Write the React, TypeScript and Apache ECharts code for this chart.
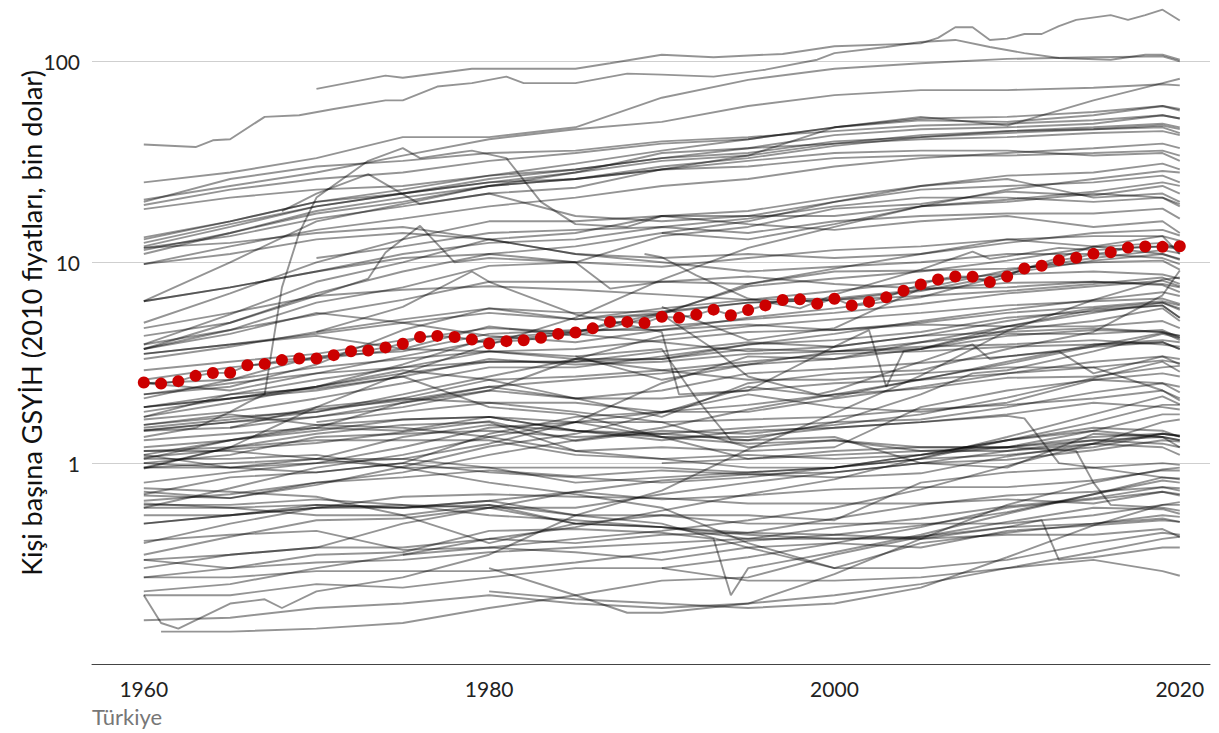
import React, { useEffect, useRef } from "react";
import * as echarts from "echarts";

// Sample years used by the compact gray series
const YEARS = [1960, 1965, 1970, 1975, 1980, 1985, 1990, 1995, 2000, 2005, 2010, 2015, 2019, 2020];

// Türkiye, yearly 1960-2020 (bin dolar, 2010 fiyatları)
const turkiyeYears = Array.from({ length: 61 }, (_, i) => 1960 + i);
const turkiyeValues = [
  2.52, 2.49, 2.56, 2.72, 2.81, 2.82, 3.07, 3.12, 3.26, 3.32,
  3.32, 3.45, 3.61, 3.64, 3.77, 3.93, 4.25, 4.30, 4.25, 4.13,
  3.94, 4.05, 4.09, 4.21, 4.40, 4.47, 4.69, 5.05, 5.05, 4.99,
  5.36, 5.30, 5.49, 5.81, 5.45, 5.79, 6.10, 6.49, 6.54, 6.22,
  6.59, 6.10, 6.35, 6.69, 7.22, 7.76, 8.21, 8.50, 8.47, 7.97,
  8.50, 9.32, 9.61, 10.25, 10.53, 11.02, 11.23, 11.84, 11.98, 11.94,
  12.03,
];

// Gray country lines sampled at YEARS
const a01 = [25, 28, 33, 42, 42, 47, 66, 81, 92, 98, 103, 105, 106, 100];
const a02 = [20.5, 24, 28, 34, 41, 46, 50, 60, 68, 72, 72, 74, 77, 76];
const a03 = [11.8, 13.5, 16.5, 19, 22, 23.5, 29, 34, 47, 53, 48, 64, 78, 82];
const a04 = [19.3, 23, 26, 28, 32, 35, 39, 41, 47, 51, 50, 54, 60, 58];
const a05 = [13, 16, 20, 23, 27, 31, 36, 41, 47, 52, 53, 56, 60, 57];
const a06 = [20, 26, 30, 32, 35, 36, 40, 42, 45, 48, 49, 51, 54, 52];
const a07 = [12, 15, 19, 22, 26, 29, 33, 37, 43, 46, 47, 49, 54, 52];
const a08 = [11.5, 14, 17.5, 20, 24, 26, 30, 33, 38, 42, 44, 46, 48, 46];
const a09 = [12.5, 15.5, 19, 22, 25, 28, 32, 34, 39, 43, 45, 46, 47, 44];
const a10 = [18.4, 21, 23, 24, 27, 29, 33, 35, 40, 42, 45, 47, 49, 47];
const a11 = [6.4, 10, 16, 19.5, 24, 28, 35, 37, 39, 41, 42, 44, 45, 43];
const a12 = [9.8, 12, 14.5, 16.5, 19, 21, 24, 26, 30, 33, 35, 37, 39, 37];
const a13 = [13.3, 16, 20, 22, 25, 26, 29, 30, 33, 34, 34, 35, 36, 34];
const a14 = [11, 14, 18, 21, 24, 26, 29, 32, 35, 36, 36, 34, 35, 32];
const a15 = [3.9, 5.5, 8, 10, 13, 14, 17, 18, 21, 24, 27, 28, 31, 29];
const a16 = [0.94, 1.2, 1.9, 2.8, 3.9, 5.3, 8.2, 11.8, 15, 19, 23, 26, 28.5, 28];
const a17 = [5, 7, 10, 13, 16, 16, 17, 17, 20, 24, 26, 21, 22, 20];
const a18 = [3.7, 5, 7, 9, 11, 12, 14, 16, 20, 23, 24, 25, 27, 25];
const a19 = [3.7, 4.6, 6.3, 7.5, 9.6, 10, 13.5, 15, 18.5, 19.5, 22.5, 21.5, 24, 22];
const a20 = [6.4, 7.5, 9, 11, 12.5, 13, 15, 16.5, 19, 21, 21, 20, 21, 19.5];
const a21 = [null, null, 10.5, 12, 14, 14.5, 15, 14, 16, 17, 17.5, 17.5, 18.5, 16.5];
const a22 = [null, null, null, null, null, null, 14, 13, 15.5, 19, 20.5, 22.5, 25, 24];
const a23 = [3.5, 3.9, 4.3, 3.7, 4.8, 4.3, 5.5, 7.8, 9.3, 11, 12.5, 14, 14.5, 13.6];
const a24 = [9.8, 11, 13, 14, 13, 11, 10, 9, 9.5, 10, 11, 11, 10.5, 9.8];
const a25 = [11.8, 12.5, 14, 15, 13, 11, 10.5, 11, 10.5, 11, 13, 12, 11, 10.4];
const a26 = [6.4, 7.5, 9, 10.5, 11, 10, 9.5, 10.5, 11.5, 12, 13, 13.5, 13.5, 12.8];
const a27 = [3.9, 4.6, 5.5, 6.5, 8, 8, 8, 7.8, 9, 9.1, 9.3, 10, 10.2, 9.2];
const a28 = [2.2, 2.4, 3.1, 4.6, 5.9, 5.6, 5.7, 6.3, 6.5, 7.2, 8.7, 9, 8.7, 8.3];
const a29 = [1.7, 2, 2.4, 3.1, 4.2, 4.5, 5.6, 7.6, 8.3, 9, 10.2, 11.9, 12.5, 11.6];
const a30 = [3.3, 3.8, 4.5, 5.2, 5.9, 5.2, 5.9, 6.5, 7.2, 8, 8.8, 10.2, 11, 10.3];
const a31 = [4.7, 5.6, 6.8, 7.3, 7.6, 7.3, 6.9, 6.5, 6.6, 7.3, 7.9, 8, 7.7, 7.1];
const a32 = [1.9, 2.1, 2.4, 2.9, 2.6, 2.1, 1.7, 2.5, 2.8, 2.9, 3.7, 4.5, 6.85, 9.1];
const a33 = [2.1, 2.6, 3.4, 3.6, 4.4, 4.6, 4.6, 5.3, 5.9, 6.7, 8.7, 12, 13.5, 11];
const a34 = [3.5, 3.9, 4.4, 5, 5.6, 5.2, 5.6, 6.3, 6.5, 6.8, 7.2, 7.8, 8.4, 7.8];
const a35 = [2.9, 3.2, 3.5, 4.1, 4.7, 4.5, 4.8, 5.2, 5.6, 6.2, 7, 7.6, 8.1, 7.6];
const a36 = [1.9, 2.2, 2.6, 3, 3.6, 3.7, 4.1, 4.5, 4.6, 5, 5.6, 6, 6.4, 6.1];
const a37 = [1.65, 1.8, 2.1, 2.5, 3, 3, 3.4, 3.9, 4.4, 5.1, 5.8, 6.5, 7.1, 6.8];
const a38 = [2.5, 2.6, 3, 3.3, 3.6, 3.3, 3.3, 3.9, 4.1, 4.5, 5.3, 5.7, 6.1, 5.3];
const a39 = [1.46, 1.6, 1.8, 2.2, 2.7, 3.3, 4.3, 4.8, 5.2, 5.6, 6.1, 6.4, 6.6, 6.2];
const a40 = [2.2, 2.5, 2.8, 3, 3.2, 3.2, 3.3, 3.7, 3.6, 3.7, 4.3, 4.6, 4.5, 4.3];
const a41 = [3.7, 4.4, 5.6, 5, 4.3, 4, 4.6, 4.9, 4.6, 4.9, 4.8, 4.8, 5.1, 4.7];
const a42 = [1.8, 2.1, 2.3, 2.7, 3.3, 3.1, 3.2, 3.5, 3.6, 3.8, 3.9, 4.1, 3.9, 3.8];
const a43 = [1.55, 1.7, 1.8, 2.1, 2.6, 2.7, 2.9, 3.2, 3.5, 3.6, 3.8, 3.9, 4, 3.7];
const a44 = [2.5, 2.3, 2.8, 3.4, 4.1, 4.4, 4, 3.6, 3.8, 4.3, 4.5, 4.7, 4.5, 4.1];
const a45 = [2.6, 3, 3.3, 3.7, 3.6, 3.4, 2.6, 3.1, 3.3, 3.7, 4.8, 5.8, 6.1, 5.3];
const a46 = [1.9, 2.1, 2.4, 2.8, 3.2, 3.2, 3.6, 4, 3.8, 4.3, 5.1, 5.9, 6.3, 5.8];
const b01 = [0.33, 0.35, 0.38, 0.38, 0.42, 0.48, 0.58, 0.7, 0.83, 1.06, 1.35, 1.75, 2.15, 1.96];
const b02 = [0.69, 0.67, 0.78, 0.96, 1.21, 1.4, 1.78, 2.4, 2.14, 2.62, 3.12, 3.83, 4.45, 4.31];
const b03 = [0.7, 0.85, 0.9, 1.0, 1.4, 1.7, 1.8, 1.95, 2.2, 2.35, 2.66, 2.7, 3.0, 3.05];
const b04 = [1.07, 1.17, 1.26, 1.43, 1.62, 1.29, 1.45, 1.4, 1.55, 1.75, 2.12, 2.65, 3.2, 2.85];
const b05 = [0.35, 0.43, 0.52, 0.53, 0.6, 0.72, 0.82, 0.88, 0.9, 1.0, 1.04, 1.16, 1.3, 1.28];
const b06 = [0.41, 0.44, 0.46, 0.37, 0.38, 0.42, 0.46, 0.52, 0.6, 0.74, 0.97, 1.25, 1.6, 1.65];
const b07 = [1.15, 1.2, 1.4, 1.55, 1.6, 1.15, 1.2, 1.15, 1.2, 1.9, 2.3, 2.6, 2.5, 2.4];
const b08 = [0.72, 0.67, 0.8, 0.85, 0.92, 0.86, 0.92, 0.88, 0.85, 0.89, 1.08, 1.25, 1.4, 1.36];
const b09 = [1.05, 1.05, 1.1, 0.95, 0.95, 0.8, 0.85, 0.9, 0.95, 1.1, 1.3, 1.6, 1.95, 1.95];
const b10 = [0.22, 0.22, 0.25, 0.24, 0.27, 0.3, 0.3, 0.26, 0.26, 0.27, 0.3, 0.33, 0.29, 0.275];
const b11 = [1.1, 0.95, 1.05, 0.95, 0.8, 0.7, 0.6, 0.4, 0.3, 0.3, 0.33, 0.4, 0.45, 0.44];
const b12 = [0.62, 0.62, 0.66, 0.62, 0.6, 0.5, 0.48, 0.42, 0.42, 0.42, 0.44, 0.44, 0.47, 0.43];
const b13 = [0.75, 0.72, 0.68, 0.55, 0.62, 0.5, 0.48, 0.44, 0.42, 0.43, 0.48, 0.5, 0.55, 0.54];
const b14 = [0.23, 0.25, 0.3, 0.35, 0.38, 0.36, 0.33, 0.38, 0.4, 0.38, 0.46, 0.49, 0.52, 0.51];
const b15 = [null, null, null, null, 0.23, 0.21, 0.2, 0.19, 0.2, 0.24, 0.34, 0.49, 0.62, 0.64];
const b16 = [null, null, null, null, 0.3, 0.22, 0.26, 0.27, 0.35, 0.43, 0.51, 0.6, 0.59, 0.56];
const b17 = [0.5, 0.55, 0.62, 0.6, 0.62, 0.55, 0.5, 0.38, 0.3, 0.4, 0.45, 0.5, 0.53, 0.51];
const b18 = [0.63, 0.6, 0.55, 0.55, 0.4, 0.5, 0.55, 0.55, 0.52, 0.8, 0.9, 0.95, 0.85, 0.83];
const b19 = [0.4, 0.5, 0.6, 0.6, 0.65, 0.55, 0.55, 0.5, 0.5, 0.5, 0.5, 0.55, 0.62, 0.62];
const b20 = [null, null, null, null, null, null, 0.3, 0.34, 0.4, 0.48, 0.6, 0.66, 0.72, 0.7];
const b21 = [0.27, 0.27, 0.29, 0.29, 0.29, 0.32, 0.36, 0.41, 0.44, 0.49, 0.57, 0.7, 0.85, 0.84];
const b22 = [0.27, 0.3, 0.32, 0.33, 0.36, 0.38, 0.4, 0.42, 0.48, 0.53, 0.61, 0.67, 0.76, 0.75];
const b23 = [null, null, null, 0.35, 0.42, 0.4, 0.44, 0.45, 0.53, 0.62, 0.69, 0.72, 0.76, 0.73];
const b24 = [0.5, 0.55, 0.6, 0.68, 0.7, 0.68, 0.67, 0.63, 0.63, 0.63, 0.66, 0.63, 0.72, 0.69];
const b25 = [0.6, 0.6, 0.62, 0.6, 0.65, 0.72, 0.66, 0.69, 0.74, 0.76, 0.76, 0.82, 0.92, 0.92];
const b26 = [null, null, 1.6, 1.8, 2.0, 1.8, 1.6, 1.2, 1.3, 1.15, 1.15, 1.3, 1.25, 1.2];
const b27 = [1.15, 1.15, 1.05, 1.05, 0.95, 0.95, 0.95, 0.9, 0.95, 1.05, 1.1, 1.2, 1.4, 1.37];
const b28 = [1.0, 1.1, 1.35, 1.4, 1.45, 1.35, 1.4, 1.3, 1.35, 1.0, 0.95, 1.4, 1.35, 1.2];
const b29 = [1.55, 1.75, 1.55, 1.5, 1.35, 1.15, 1.05, 0.95, 0.95, 1.05, 1.3, 1.5, 1.45, 1.35];
const b30 = [1.05, 1.3, 1.55, 1.65, 1.7, 1.45, 1.35, 1.25, 1.3, 1.2, 1.2, 1.45, 1.75, 1.75];
const b31 = [0.95, 0.95, 1.0, 1.05, 1.25, 1.6, 1.35, 1.05, 1.15, 1.2, 1.2, 1.35, 1.4, 1.37];
const b32 = [1.0, 0.95, 0.9, 1.0, 0.9, 0.85, 0.8, 0.85, 0.95, 1.1, 1.3, 1.45, 1.35, 1.3];
const b33 = [0.3, 0.35, 0.38, 0.5, 0.6, 0.6, 0.7, 0.8, 0.9, 1.0, 1.15, 1.25, 1.2, 1.1];
const b34 = [1.3, 1.4, 1.5, 1.45, 1.7, 1.6, 1.6, 1.65, 1.7, 1.85, 1.95, 2.1, 2.3, 2.05];
const b35 = [1.2, 1.3, 1.45, 1.65, 1.7, 1.45, 1.4, 1.5, 1.6, 1.65, 1.9, 2.25, 2.5, 2.25];
const b36 = [0.8, 0.9, 1.0, 1.2, 1.5, 1.6, 1.8, 1.8, 2.1, 2.4, 2.8, 3.2, 3.4, 3.1];
const b37 = [0.65, 0.7, 0.8, 0.9, 1.1, 1.3, 1.5, 1.85, 2.2, 2.6, 3.2, 3.9, 4.1, 4.0];
const b38 = [1.5, 1.65, 1.85, 2.05, 2.4, 2.1, 2.1, 2.3, 2.5, 2.6, 2.8, 3.0, 3.25, 3.15];
const b39 = [1.45, 1.6, 1.7, 2.0, 2.3, 2.1, 2.3, 2.8, 2.95, 3.15, 3.4, 3.8, 4.0, 3.7];
const b40 = [1.1, 1.3, 1.5, 2.0, 2.4, 2.6, 2.8, 3.1, 3.6, 4.0, 4.4, 4.4, 4.6, 4.2];
const b41 = [0.6, 0.75, 0.95, 1.1, 1.35, 1.6, 2.5, 3.4, 3.3, 4.0, 4.8, 5.6, 6.3, 5.9];
const b42 = [1.7, 2.2, 2.35, 2.7, 1.9, 1.75, 1.35, 1.35, 1.5, 1.6, 1.75, 2.0, 1.9, 1.85];
const b43 = [null, 1.5, 1.9, 2.1, 2.0, 2.0, 1.8, 2.2, 1.9, 1.8, 2.0, 2.6, 2.8, 2.7];
const b44 = [0.95, 1.2, 1.3, 1.3, 1.3, 1.1, 1.05, 1.1, 1.05, 1.1, 1.2, 1.3, 1.35, 1.3];
const b45 = [1.45, 1.5, 1.7, 1.9, 2.3, 3.3, 2.9, 2.6, 2.6, 2.8, 3.0, 3.0, 2.3, 2.1];
const b46 = [0.165, 0.17, 0.19, 0.2, 0.22, 0.2, 0.19, 0.2, 0.22, 0.25, 0.3, 0.36, 0.42, 0.43];

// Gray lines with their own years: [year, value]
const s01 = [[1970, 73], [1974, 85], [1975, 83], [1979, 92], [1985, 92], [1987, 98], [1990, 108], [1993, 105], [1997, 109], [2000, 119], [2005, 123], [2006, 131], [2007, 148], [2008, 148], [2009, 128], [2010, 130], [2011, 137], [2012, 137], [2013, 150], [2014, 161], [2016, 170], [2017, 161], [2018, 170], [2019, 181], [2020, 160]];
const s02 = [[1960, 38.6], [1963, 37.5], [1964, 40.5], [1965, 41], [1967, 53], [1969, 54], [1971, 58], [1974, 64], [1975, 64], [1977, 75], [1979, 78], [1981, 84], [1982, 78], [1985, 78], [1988, 87], [1990, 86], [1993, 84], [1996, 91], [1999, 102], [2000, 110], [2003, 118], [2005, 125], [2007, 128], [2009, 118], [2011, 110], [2013, 104], [2016, 102], [2018, 108], [2019, 108], [2020, 102]];
const s03 = [[1960, 1.35], [1963, 1.5], [1965, 1.8], [1966, 2.0], [1967, 2.2], [1968, 7.5], [1969, 14], [1970, 21], [1973, 32], [1975, 37], [1976, 33], [1978, 35], [1979, 36], [1981, 33], [1983, 20], [1985, 15.5], [1988, 15], [1990, 17], [1995, 15.5], [2000, 14.5], [2005, 16], [2010, 17], [2015, 15], [2019, 16], [2020, 14]];
const s04 = [[1960, 4.3], [1965, 5], [1970, 6.8], [1973, 8.3], [1974, 11.2], [1976, 15.2], [1978, 10], [1980, 10.5], [1985, 10], [1987, 7.4], [1990, 8], [1995, 8.5], [2000, 7.8], [2005, 7.4], [2010, 7.5], [2015, 8], [2019, 7.8], [2020, 7.5]];
const s05 = [[1968, 18], [1970, 22], [1973, 27.5], [1976, 19.5], [1980, 22], [1985, 17], [1990, 16], [1995, 17], [2000, 17], [2005, 19], [2010, 20], [2015, 22], [2019, 21], [2020, 19]];
const s07 = [[1989, 11], [1990, 10.6], [1992, 8.6], [1995, 6.6], [1998, 5.9], [2000, 6.9], [2005, 9.2], [2008, 11.3], [2009, 10.4], [2010, 10.7], [2013, 11.8], [2015, 11.5], [2019, 12], [2020, 11.6]];
const s08 = [[1990, 6], [1995, 4.1], [2000, 4.7], [2005, 7.4], [2010, 9.1], [2015, 10.5], [2019, 11.5], [2020, 11.1]];
const s09 = [[1987, 5.3], [1990, 5.5], [1993, 3.7], [1995, 2.7], [1999, 2.2], [2000, 2.3], [2005, 3.2], [2008, 3.9], [2009, 3.3], [2010, 3.4], [2013, 3.6], [2015, 2.8], [2019, 3.4], [2020, 3.3]];
const s10 = [[1985, 3.4], [1990, 3.7], [1992, 2.1], [1994, 1.3], [1995, 1.3], [2000, 1.6], [2005, 2.2], [2008, 2.8], [2010, 2.9], [2015, 3.6], [2019, 4.4], [2020, 4.2]];
const s11 = [[1970, 4.5], [1975, 6], [1979, 9], [1980, 8], [1985, 5.5], [1990, 4.5], [1991, 2.2], [1995, 2.3], [2000, 3.8], [2002, 4.6], [2003, 2.4], [2004, 3.6], [2005, 3.7], [2010, 4.6], [2015, 5.1], [2019, 5.9], [2020, 5.1]];
const s12 = [[1960, 0.22], [1961, 0.16], [1962, 0.15], [1965, 0.2], [1967, 0.21], [1968, 0.19], [1970, 0.23], [1975, 0.27], [1980, 0.35], [1985, 0.55], [1990, 0.73], [1995, 1.17], [2000, 1.77], [2005, 2.73], [2010, 4.55], [2015, 6.5], [2019, 8.2], [2020, 8.4]];
const s13 = [[1961, 0.145], [1965, 0.145], [1970, 0.15], [1975, 0.16], [1980, 0.19], [1985, 0.22], [1988, 0.18], [1990, 0.18], [1995, 0.2], [2000, 0.28], [2005, 0.42], [2010, 0.62], [2015, 0.8], [2019, 0.93], [2020, 0.95]];
const s14 = [[1960, 0.33], [1965, 0.3], [1970, 0.35], [1975, 0.36], [1980, 0.46], [1985, 0.47], [1990, 0.45], [1993, 0.42], [1994, 0.22], [1995, 0.3], [2000, 0.36], [2005, 0.44], [2010, 0.56], [2015, 0.7], [2019, 0.82], [2020, 0.8]];
const s15 = [[1960, 0.55], [1965, 0.55], [1970, 0.6], [1975, 0.62], [1980, 0.55], [1985, 0.52], [1990, 0.48], [1995, 0.45], [2000, 0.44], [2005, 0.42], [2010, 0.48], [2012, 0.52], [2013, 0.33], [2015, 0.34], [2019, 0.38], [2020, 0.38]];
const s16 = [[1960, 0.95], [1965, 1.0], [1970, 1.05], [1975, 1.35], [1980, 1.55], [1985, 1.45], [1990, 1.3], [1995, 1.45], [2000, 1.5], [2005, 1.6], [2010, 1.72], [2011, 1.67], [2013, 1.0], [2015, 0.95], [2019, 1.0], [2020, 0.98]];
const s17 = [[1990, 1.0], [1995, 1.05], [2000, 1.1], [2005, 1.15], [2010, 1.2], [2014, 1.15], [2015, 0.8], [2016, 0.62], [2019, 0.6], [2020, 0.58]];

const sampledLines = [
  a01, a02, a03, a04, a05, a06, a07, a08, a09, a10, a11, a12, a13, a14, a15, a16, a17, a18, a19, a20,
  a21, a22, a23, a24, a25, a26, a27, a28, a29, a30, a31, a32, a33, a34, a35, a36, a37, a38, a39, a40,
  a41, a42, a43, a44, a45, a46,
  b01, b02, b03, b04, b05, b06, b07, b08, b09, b10, b11, b12, b13, b14, b15, b16, b17, b18, b19, b20,
  b21, b22, b23, b24, b25, b26, b27, b28, b29, b30, b31, b32, b33, b34, b35, b36, b37, b38, b39, b40,
  b41, b42, b43, b44, b45, b46,
];
const pairLines = [s01, s02, s03, s04, s05, s07, s08, s09, s10, s11, s12, s13, s14, s15, s16, s17];

const xLabels = [1960, 1980, 2000, 2020];
const yLabels = [1, 10, 100];
const gridValues = [1, 10, 100];

const FONT = "Lato, 'Noto Sans', sans-serif";

export default function App() {
  const ref = useRef<HTMLDivElement>(null);

  useEffect(() => {
    if (!ref.current) return;
    const chart = echarts.init(ref.current, undefined, { renderer: "svg" });

    const grayStyle = { color: "#000", width: 1.9, opacity: 0.42 };
    const toPairs = (vals: (number | null)[]) =>
      YEARS.map((y, i) => [y, vals[i]]).filter((p) => p[1] != null);

    const allGray = [
      ...sampledLines.map((v) => toPairs(v)),
      ...pairLines,
      turkiyeYears.map((y, i) => [y, turkiyeValues[i]]),
    ];

    const series: any[] = allGray.map((data, idx) => ({
      type: "line",
      data,
      showSymbol: false,
      symbol: "none",
      silent: true,
      lineStyle: grayStyle,
      emphasis: { disabled: true },
      z: 2,
      ...(idx === 0
        ? {
            markLine: {
              silent: true,
              symbol: "none",
              label: { show: false },
              lineStyle: { color: "#cfcfcf", width: 1, type: "solid", opacity: 1 },
              data: gridValues.map((v) => ({ yAxis: v })),
              z: 1,
            },
          }
        : {}),
    }));

    series.push({
      type: "scatter",
      data: turkiyeYears.map((y, i) => [y, turkiyeValues[i]]),
      symbol: "circle",
      symbolSize: 12,
      itemStyle: { color: "#cc0000", opacity: 1 },
      silent: true,
      z: 10,
    });

    chart.setOption({
      animation: false,
      textStyle: { fontFamily: FONT },
      grid: { left: 92, right: 9, top: 1, bottom: 69, containLabel: false },
      xAxis: {
        type: "value",
        min: 1957,
        max: 2021.75,
        axisLine: { show: true, lineStyle: { color: "#444", width: 1 } },
        axisTick: { show: false },
        splitLine: { show: false },
        axisLabel: {
          customValues: xLabels,
          formatter: (v: number) => (xLabels.includes(Math.round(v)) ? String(Math.round(v)) : ""),
          fontSize: 21,
          color: "#222",
          margin: 14,
          fontFamily: FONT,
        },
      },
      yAxis: {
        type: "log",
        logBase: 10,
        min: 0.1,
        max: 200,
        axisLine: { show: false },
        axisTick: { show: false },
        splitLine: { show: false },
        axisLabel: {
          formatter: (v: number) => {
            const r = Math.round(v);
            return yLabels.includes(r) && Math.abs(v - r) < 1e-6 ? String(r) : "";
          },
          fontSize: 21,
          color: "#222",
          margin: 12,
          fontFamily: FONT,
        },
      },
      graphic: [
        {
          type: "text",
          x: 31,
          y: 323,
          rotation: Math.PI / 2,
          style: {
            text: "Kişi başına GSYİH (2010 fiyatları, bin dolar)",
            fontSize: 27,
            fontFamily: FONT,
            fill: "#111",
            align: "center",
            verticalAlign: "middle",
            textAlign: "center",
            textVerticalAlign: "middle",
          },
        },
        {
          type: "text",
          left: 92,
          top: 705,
          style: {
            text: "Türkiye",
            fontSize: 22,
            fontFamily: FONT,
            fill: "#777",
          },
        },
      ],
      series,
    });

    return () => chart.dispose();
  }, []);

  return (
    <div
      ref={ref}
      style={{ position: "fixed", left: 0, top: 0, width: 1219, height: 733, background: "#fff" }}
    />
  );
}
